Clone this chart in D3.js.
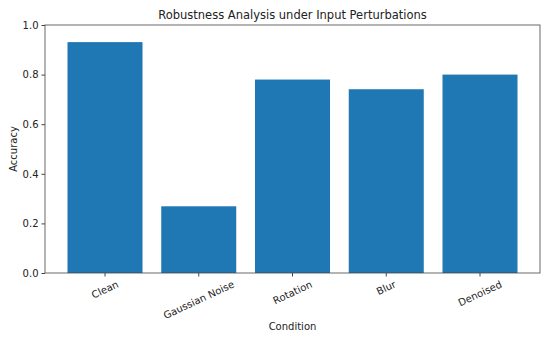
<!doctype html>
<html>
<head>
    <style>
        body { margin: 0; background: #fff; }
        text { font-family: "DejaVu Sans", sans-serif; fill: #222; }
        .bar { fill: #1f77b4; }
    </style>
    <script src="https://d3js.org/d3.v7.min.js"></script>
</head>
<body>
    <svg width="550" height="342"></svg>
    <script>
        var conditions = ["Clean", "Gaussian Noise", "Rotation", "Blur", "Denoised"]
        var accuracy = [0.931, 0.269, 0.78, 0.741, 0.80]
        var yTicks = [0.0, 0.2, 0.4, 0.6, 0.8, 1.0]

        var svg = d3.select("svg"),
            margin = { top: 25, right: 10, bottom: 69, left: 45 },
            width = 550 - margin.left - margin.right,
            height = 342 - margin.top - margin.bottom

        var xScale = d3.scaleBand().domain(conditions).range([0, width])
                .paddingInner(0.2).paddingOuter(0.24),
            yScale = d3.scaleLinear().domain([0, 1]).range([height, 0]);

        var g = svg.append("g")
            .attr("transform", "translate(" + margin.left + "," + margin.top + ")");

        g.selectAll(".bar")
            .data(accuracy)
            .enter().append("rect")
            .attr("class", "bar")
            .attr("x", function (d, i) { return xScale(conditions[i]); })
            .attr("y", function (d) { return yScale(d); })
            .attr("width", xScale.bandwidth())
            .attr("height", function (d) { return height - yScale(d); });

        // frame
        g.append("rect")
            .attr("width", width).attr("height", height)
            .attr("fill", "none").attr("stroke", "#444").attr("stroke-width", 0.8);

        // y axis
        var yAxis = g.append("g")
            .call(d3.axisLeft(yScale).tickValues(yTicks).tickFormat(d3.format(".1f")).tickSize(3.5).tickPadding(3));
        yAxis.select(".domain").remove();
        yAxis.selectAll("line").attr("stroke", "#444");
        yAxis.selectAll("text").style("font-size", "10px").attr("fill", "#222");

        // x axis
        var xAxis = g.append("g")
            .attr("transform", "translate(0," + height + ")")
            .call(d3.axisBottom(xScale).tickSize(3.5).tickFormat(""));
        xAxis.select(".domain").remove();
        xAxis.selectAll("line").attr("stroke", "#444");

        // rotated category labels, bbox top aligned below ticks
        var angle = 25 * Math.PI / 180;
        conditions.forEach(function (c) {
            var t = g.append("text")
                .style("font-size", "10px")
                .attr("text-anchor", "middle")
                .attr("dominant-baseline", "central")
                .text(c);
            var L = t.node().getComputedTextLength(), h = 10;
            var boxH = L * Math.sin(angle) + h * Math.cos(angle);
            var cx = xScale(c) + xScale.bandwidth() / 2,
                cy = height + 6 + boxH / 2;
            t.attr("transform", "translate(" + cx + "," + cy + ") rotate(-25)");
        });

        // X Axis Label
        g.append("text")
            .attr("x", width / 2)
            .attr("y", height + 57)
            .style("text-anchor", "middle")
            .style("font-size", "10px")
            .text("Condition");

        // Y Axis Label
        g.append("text")
            .attr("transform", "rotate(-90)")
            .attr("x", -height / 2)
            .attr("y", -28)
            .style("text-anchor", "middle")
            .style("font-size", "10px")
            .text("Accuracy");

        // Title
        svg.append("text")
            .attr("x", margin.left + width / 2)
            .attr("y", 19)
            .attr("text-anchor", "middle")
            .style("font-size", "11.5px")
            .text("Robustness Analysis under Input Perturbations");
    </script>
</body>
</html>
